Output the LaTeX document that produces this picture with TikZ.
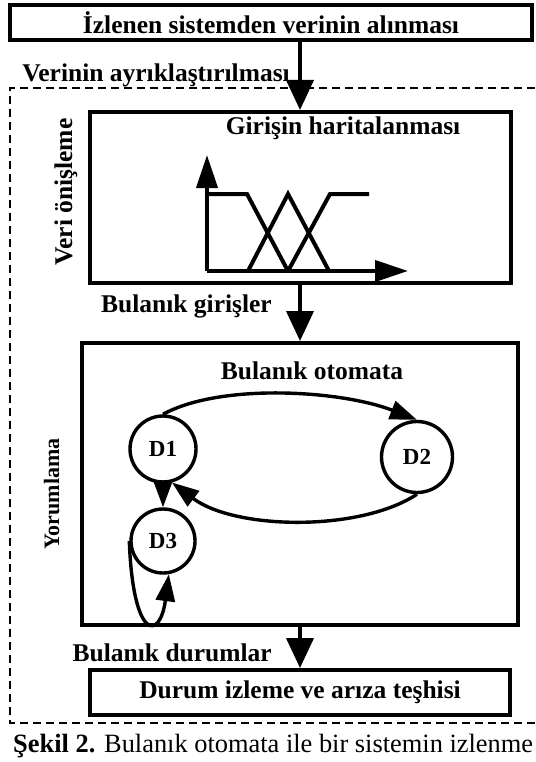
\documentclass[tikz,border=0pt]{standalone}
\usepackage{fontspec}
\setmainfont{Liberation Serif}
\usetikzlibrary{arrows.meta}

\begin{document}
\begin{tikzpicture}[x=1pt,y=-1pt,
	box/.style={draw=black,line width=4pt,inner sep=0pt,font=\fontsize{25.5}{30}\selectfont\bfseries},
	lbl/.style={inner sep=0pt,font=\fontsize{25.5}{30}\selectfont\bfseries},
	state/.style={shape=circle,draw=black,line width=3.4pt,inner sep=0pt,font=\fontsize{23}{27}\selectfont\bfseries},
	flow/.style={-{Triangle[width=27pt,length=30pt]},line width=4pt},
	trans/.style={-{Triangle[width=19pt,length=27pt]},line width=3.4pt},
	axis/.style={-{Triangle[width=21pt,length=33pt]},line width=4pt}]
	
	\useasboundingbox (0,0) rectangle (535,762);
	
	% dashed frame
	\draw[line width=2.2pt,dash pattern=on 8pt off 5pt] (535,88) -- (10,88) -- (10,723) -- (535,723);
	
	\node[box,minimum width=522pt,minimum height=35pt] (src) at (271,22.5) {İzlenen sistemden verinin alınması};
	\node[box,minimum width=421pt,minimum height=171pt] (giris) at (300,197.5) {};
	\node[box,minimum width=436pt,minimum height=282pt] (otom) at (300,484) {};
	\node[box,minimum width=420pt,minimum height=45pt] (durum) at (300,692.5) {Durum izleme ve arıza teşhisi};
	
	\node[lbl,anchor=base east] (ayrik) at (290,82) {Verinin ayrıklaştırılması};
	\node[lbl,anchor=base] (harita) at (343,135) {Girişin haritalanması};
	\node[lbl,anchor=base east] (bgiris) at (272,312) {Bulanık girişler};
	\node[lbl,anchor=base] (otit) at (312,379) {Bulanık otomata};
	\node[lbl,anchor=base east] (bdurum) at (272,661) {Bulanık durumlar};
	\node[lbl,rotate=90,anchor=base] (veri) at (72,192) {Veri önişleme};
	\node[lbl,rotate=90,anchor=base,font=\fontsize{22}{26}\selectfont\bfseries] (yorum) at (59,494) {Yorumlama};
	
	\draw[flow] (src.south -| giris.north) -- (giris.north);
	\draw[flow] (giris.south) -- (otom.north);
	\draw[flow] (otom.south) -- (durum.north);
	
	% membership functions
	\draw[axis] (207,271) -- (207,155);
	\draw[axis] (207,271) -- (408,271);
	\draw[line width=4pt] (207,194) -- (247,194) -- (288,271);
	\draw[line width=4pt] (248,271) -- (288,194) -- (329,271);
	\draw[line width=4pt] (288,271) -- (330,194) -- (369,194);
	
	% automaton
	\node[state,minimum size=66pt] (d1) at (163,449) {D1};
	\node[state,minimum size=71pt] (d2) at (417,457) {D2};
	\node[state,minimum size=64pt] (d3) at (163,541) {D3};
	\draw[trans] (d1.north) .. controls (220,383) and (340,390) .. (d2.north);
	\draw[trans] (d2.south) .. controls (360,532) and (235,530) .. (d1.-75);
	\draw[trans] (d1.south) -- (d3.north);
	\draw[trans] (d3.west) .. controls (133,641) and (160,641) .. (d3.-80);
	
	\node[anchor=base west,inner sep=0pt,font=\fontsize{26.4}{30}\selectfont] (cap) at (13,752) {\textbf{Şekil 2.} Bulanık otomata ile bir sistemin izlenme};
	
\end{tikzpicture}
\end{document}
